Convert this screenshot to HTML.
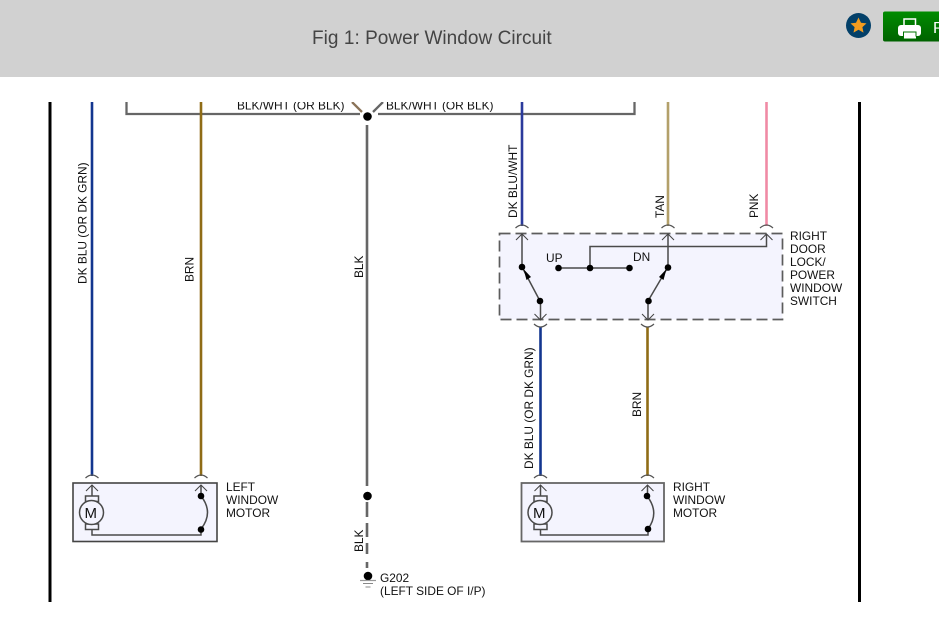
<!DOCTYPE html>
<html><head><meta charset="utf-8"><style>
html,body{margin:0;padding:0;background:#fff;width:939px;height:617px;overflow:hidden}
svg{display:block}
text{font-family:"Liberation Sans",sans-serif;font-size:11.9px;fill:#111}
</style></head><body>
<svg width="939" height="617" viewBox="0 0 939 617" xmlns="http://www.w3.org/2000/svg">
<defs>
<clipPath id="c"><rect x="0" y="102" width="939" height="515"/></clipPath>
<linearGradient id="g" x1="0" y1="0" x2="0" y2="1"><stop offset="0" stop-color="#008c00"/><stop offset="1" stop-color="#006200"/></linearGradient>
</defs>
<rect x="0" y="0" width="939" height="77" fill="#d1d1d1"/>
<text x="312" y="44" style="font-size:19px;fill:#444;letter-spacing:.04px">Fig 1: Power Window Circuit</text>
<circle cx="858.500" cy="25.500" r="12.500" fill="#034069"/>
<polygon points="858.500,17.500 861,22.800 866.500,23.400 862.400,27.100 863.500,32.600 858.500,29.800 853.500,32.600 854.600,27.100 850.500,23.400 856,22.800" fill="#f39c1f"/>
<rect x="883" y="11.500" width="60" height="30" rx="2" fill="url(#g)"/>
<rect x="904" y="19" width="11.500" height="7" fill="none" stroke="#fff" stroke-width="1.500"/>
<rect x="898" y="25" width="23" height="11" rx="3" fill="#fff"/>
<rect x="903.500" y="32" width="12.500" height="6.500" fill="#fff" stroke="#007400" stroke-width="1"/>
<rect x="904" y="36.500" width="12" height="2" fill="#fff"/>
<text x="933" y="33" style="font-size:16px;fill:#fff">P</text>

<rect x="73" y="483" width="144" height="58.500" fill="#f4f4fe"/>
<rect x="521.500" y="483" width="142.500" height="58.500" fill="#f4f4fe"/>
<rect x="499.500" y="233.500" width="283" height="86" fill="#f4f4fe"/>

<g clip-path="url(#c)">
<path d="M126.500 102V114H360M378 114H634.500V102" fill="none" stroke="#666" stroke-width="2.300"/>
<path d="M352 102L362 112" fill="none" stroke="#8a7358" stroke-width="2.300"/>
<path d="M373 112L383 102" fill="none" stroke="#666" stroke-width="2.300"/>
<text x="237" y="109.500">BLK/WHT (OR BLK)</text>
<text x="386" y="109.500">BLK/WHT (OR BLK)</text>
</g>

<g fill="none" stroke-width="2.600">
<path d="M50 102V602M859.500 102V602" stroke="#000" stroke-width="3"/>
<path d="M92 102V476" stroke="#13368f"/>
<path d="M201 102V476" stroke="#8f6c16"/>
<path d="M522 102V226" stroke="#2b3a9c"/>
<path d="M668 102V226" stroke="#b3a06a"/>
<path d="M766.500 102V226" stroke="#f08aa5"/>
<path d="M540.500 327V476" stroke="#13368f"/>
<path d="M647.500 327V476" stroke="#8f6c16"/>
<path d="M367 125V486M367 502V517M367 523V537M367 543V554M367 562V568" stroke="#666"/>
</g>

<g fill="none" stroke="#555" stroke-width="1.200">
<path d="M85.500 478Q92 472 98.500 478M194.500 478Q201 472 207.500 478"/>
<path d="M534 478Q540.500 472 547 478M641 478Q647.500 472 654 478"/>
<path d="M515.500 228Q522 222 528.500 228M661.500 228Q668 222 674.500 228M760 228Q766.500 222 773 228"/>
<path d="M534 324Q540.500 330 547 324M641 324Q647.500 330 654 324"/>
</g>

<rect x="73" y="483" width="144" height="58.500" fill="none" stroke="#444" stroke-width="1.600"/>
<rect x="521.500" y="483" width="142.500" height="58.500" fill="none" stroke="#666" stroke-width="1.800"/>
<rect x="499.500" y="233.500" width="283" height="86" fill="none" stroke="#5c5c5c" stroke-width="1.700" stroke-dasharray="11 5"/>

<g fill="none" stroke="#4a4a4a" stroke-width="1.500">
<path d="M92 485V496M201 485V496"/>
<rect x="85.500" y="496" width="13" height="5.500" fill="#f4f4fe"/>
<rect x="85.500" y="524" width="13" height="5.500" fill="#f4f4fe"/>
<circle cx="91.500" cy="512.500" r="12" fill="#f4f4fe"/>
<path d="M92 529.500V535H201V529"/>
<path d="M201 496Q214 512.500 201 529"/>

<path d="M540.500 485V496M647.500 485V496"/>
<rect x="534" y="496" width="13" height="5.500" fill="#f4f4fe"/>
<rect x="534" y="524" width="13" height="5.500" fill="#f4f4fe"/>
<circle cx="540" cy="512.500" r="12" fill="#f4f4fe"/>
<path d="M540.500 529.500V535H648V529"/>
<path d="M647 496Q660 512.500 648 529"/>

<path d="M522 234V267M668 234V267M590 268V246.500H766.500V234M558 268H629"/>
<path d="M522 267L540 301M668 267L648 301"/>
<path d="M540.500 301V319M648 301V319"/>
</g>
<g fill="none" stroke="#444" stroke-width="1">
<path d="M86 491L92 485L98 491M195 491L201 485L207 491"/>
<path d="M534.500 491L540.500 485L546.500 491M641.500 491L647.500 485L653.500 491"/>
<path d="M516 240L522 234L528 240M662 240L668 234L674 240M760.500 240L766.500 234L772.500 240"/>
<path d="M534.500 314L540.500 320L546.500 314M642 314L648 320L654 314"/>
</g>
<g fill="#000">
<polygon points="523.500,269 531,277 526.500,280"/>
<polygon points="666.500,269 659,277 663.500,280"/>
<circle cx="522" cy="267" r="3.300"/><circle cx="540" cy="301" r="3.300"/>
<circle cx="558.500" cy="268" r="3.300"/><circle cx="590" cy="268" r="3.300"/><circle cx="629.500" cy="268" r="3.300"/>
<circle cx="668" cy="267.500" r="3.300"/><circle cx="648.500" cy="301" r="3.300"/>
<circle cx="201" cy="496" r="3.300"/><circle cx="201" cy="529.500" r="3.300"/>
<circle cx="647" cy="496" r="3.300"/><circle cx="648" cy="529" r="3.300"/>
<circle cx="367.500" cy="116.500" r="4.300"/><circle cx="367.500" cy="496" r="4.300"/><circle cx="368" cy="576" r="4.300"/>
</g>
<path d="M360 580.500H376" stroke="#999" stroke-width="1.200"/>
<path d="M363 583.500H373" stroke="#888" stroke-width="1"/>
<path d="M365.500 587H370.500" stroke="#888" stroke-width="1"/>

<text x="84.500" y="512" dy="6" style="font-size:15px">M</text>
<text x="533" y="512" dy="6" style="font-size:15px">M</text>

<text transform="translate(86.500,284) rotate(-90)">DK BLU (OR DK GRN)</text>
<text transform="translate(193.500,282) rotate(-90)">BRN</text>
<text transform="translate(363,278) rotate(-90)">BLK</text>
<text transform="translate(363,552) rotate(-90)">BLK</text>
<text transform="translate(517,218) rotate(-90)">DK BLU/WHT</text>
<text transform="translate(664,218) rotate(-90)">TAN</text>
<text transform="translate(758,218) rotate(-90)">PNK</text>
<text transform="translate(533,469) rotate(-90)">DK BLU (OR DK GRN)</text>
<text transform="translate(641,417) rotate(-90)">BRN</text>

<text x="546" y="262">UP</text>
<text x="633" y="261">DN</text>
<text x="790" y="240">RIGHT</text>
<text x="790" y="253">DOOR</text>
<text x="790" y="266">LOCK/</text>
<text x="790" y="279">POWER</text>
<text x="790" y="292">WINDOW</text>
<text x="790" y="305">SWITCH</text>
<text x="226" y="491">LEFT</text>
<text x="226" y="504">WINDOW</text>
<text x="226" y="517">MOTOR</text>
<text x="673" y="491">RIGHT</text>
<text x="673" y="504">WINDOW</text>
<text x="673" y="517">MOTOR</text>
<text x="380" y="582">G202</text>
<text x="380" y="595">(LEFT SIDE OF I/P)</text>
</svg>
</body></html>
